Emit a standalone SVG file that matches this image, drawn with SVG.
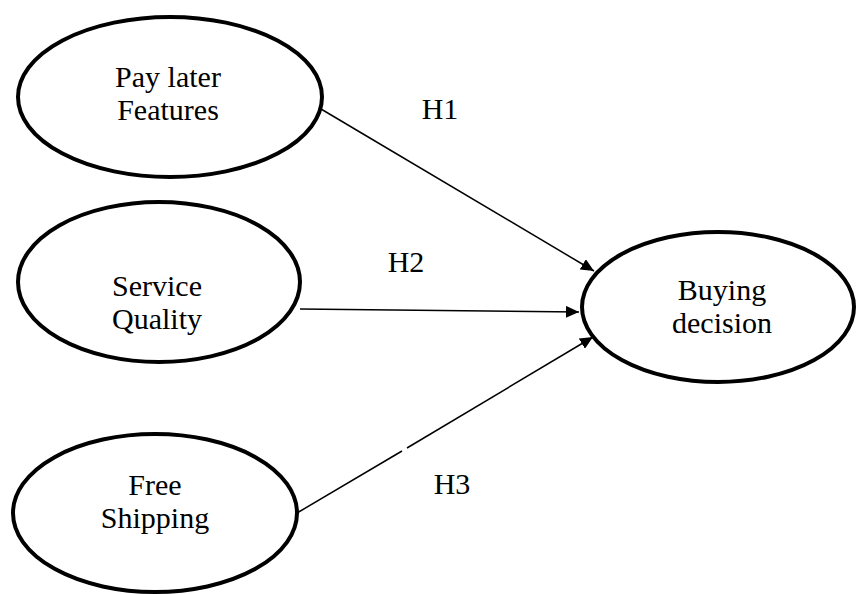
<svg xmlns="http://www.w3.org/2000/svg" width="856" height="594" viewBox="0 0 856 594">
  <style>
    .node ellipse { fill: #fff; stroke: #000; stroke-width: 4; }
    .node text, .lbl { font-family: "Liberation Serif", "Times New Roman", serif; font-size: 30px; fill: #000; text-anchor: middle; }
    .edge { stroke: #000; stroke-width: 1.5; fill: none; }
    .head { marker-end: url(#arrow); }
  </style>
  <defs>
    <marker id="arrow" viewBox="0 0 13 12" refX="13" refY="6" markerWidth="13" markerHeight="12" markerUnits="userSpaceOnUse" orient="auto">
      <path d="M0,0 L13,6 L0,12 z" fill="#000"/>
    </marker>
  </defs>
  <rect width="856" height="594" fill="#fff"/>

  <g id="connectors">
    <line class="edge head" x1="321" y1="109" x2="594" y2="271"/>
    <line class="edge head" x1="300" y1="309" x2="579" y2="312"/>
    <!-- H3 path is drawn in two pieces with a small break -->
    <line class="edge" x1="297" y1="513" x2="402" y2="451"/>
    <line class="edge head" x1="407" y1="448" x2="593" y2="337"/>
    <text class="lbl" x="440" y="119">H1</text>
    <text class="lbl" x="406" y="272">H2</text>
    <text class="lbl" x="452" y="494">H3</text>
  </g>

  <g id="pay-later" class="node">
    <ellipse cx="170" cy="97" rx="152" ry="80"/>
    <text x="168" y="87">Pay later</text>
    <text x="168" y="120">Features</text>
  </g>
  <g id="service-quality" class="node">
    <ellipse cx="159" cy="282" rx="141" ry="80"/>
    <text x="157" y="296">Service</text>
    <text x="157" y="329">Quality</text>
  </g>
  <g id="free-shipping" class="node">
    <ellipse cx="155" cy="513" rx="142" ry="79"/>
    <text x="155" y="495">Free</text>
    <text x="155" y="528">Shipping</text>
  </g>
  <g id="buying-decision" class="node">
    <ellipse cx="718" cy="307" rx="136" ry="75"/>
    <text x="722" y="300">Buying</text>
    <text x="722" y="333">decision</text>
  </g>
</svg>
